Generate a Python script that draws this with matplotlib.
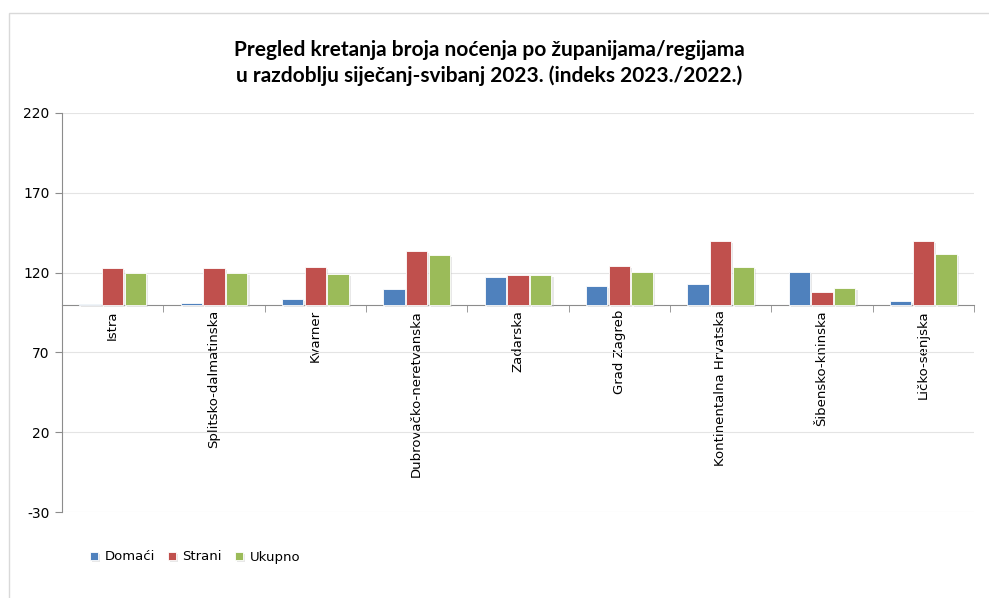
import numpy as np
import matplotlib
matplotlib.use("Agg")
import matplotlib.pyplot as plt
import matplotlib.patheffects as pe
from matplotlib.patches import Rectangle

plt.rcParams["axes.unicode_minus"] = False

# Data (index 2023./2022.)
regije = ["Istra", "Splitsko-dalmatinska", "Kvarner", "Dubrovačko-neretvanska",
          "Zadarska", "Grad Zagreb", "Kontinentalna Hrvatska", "Šibensko-kninska",
          "Ličko-senjska"]
domaci = [100.1, 101.2, 103.3, 110.0, 117.5, 111.4, 113.1, 120.4, 102.5]
strani = [122.7, 122.7, 123.8, 133.4, 118.3, 124.4, 140.0, 107.7, 140.0]
ukupno = [119.8, 119.8, 118.9, 130.8, 118.3, 120.4, 123.5, 110.6, 131.7]
serije = ["Domaći", "Strani", "Ukupno"]
boje = ["#4F81BD", "#C0504D", "#9BBB59"]
y_ticks = [-30, 20, 70, 120, 170, 220]

fig = plt.figure(figsize=(9.89, 5.98), dpi=100)
ax = fig.add_axes([62/989, 86/598, 912/989, 399/598])

# light chart frame
fig.patches.append(Rectangle((9/989, -0.1), 1.1, (598-13)/598 + 0.1, transform=fig.transFigure,
                             fill=False, edgecolor="#d9d9d9", lw=1.0))

x = np.arange(len(regije))
w = 0.21
shadow = [pe.SimplePatchShadow(offset=(1.5, -1.5), shadow_rgbFace="#bfbfbf", alpha=0.35), pe.Normal()]
for k, vals in enumerate([domaci, strani, ukupno]):
    v = np.array(vals)
    ax.bar(x + (k - 1) * 0.225, v - 100, bottom=100, width=w, color=boje[k],
           edgecolor="white", lw=0.6, label=serije[k], zorder=3, path_effects=shadow)

ax.set_xlim(-0.5, len(regije) - 0.5)
ax.set_ylim(-30, 220)
ax.set_yticks(y_ticks)
ax.grid(axis="y", color="#e4e4e4", lw=0.8, zorder=0)
ax.set_axisbelow(True)

for s in ["top", "right"]:
    ax.spines[s].set_visible(False)
ax.spines["left"].set_color("#8c8c8c")
ax.spines["bottom"].set_color("#8c8c8c")
ax.spines["bottom"].set_position(("data", 100))

ax.tick_params(axis="y", direction="out", length=5, color="#8c8c8c", labelsize=10, pad=4)
ax.set_xticks(x)
ax.set_xticklabels(regije, rotation=90, va="top", ha="center", fontsize=9.5)
ax.tick_params(axis="x", length=0, pad=4)
ax.set_xticks(np.arange(-0.5, len(regije)), minor=True)
ax.tick_params(axis="x", which="minor", direction="out", length=5, color="#8c8c8c")

fig.text(0.495, 0.895, "Pregled kretanja broja noćenja po županijama/regijama\n"
         "u razdoblju siječanj-svibanj 2023. (indeks 2023./2022.)",
         ha="center", va="center", fontsize=15, fontweight="bold", family="Lato",
         linespacing=1.3)

leg = fig.legend(loc="center left", bbox_to_anchor=(78/989, 1 - 557/598), ncol=3,
                 frameon=False, fontsize=9.5, handlelength=0.6, handleheight=0.6,
                 columnspacing=1.0, handletextpad=0.5)

fig.savefig("out.png", dpi=100)
